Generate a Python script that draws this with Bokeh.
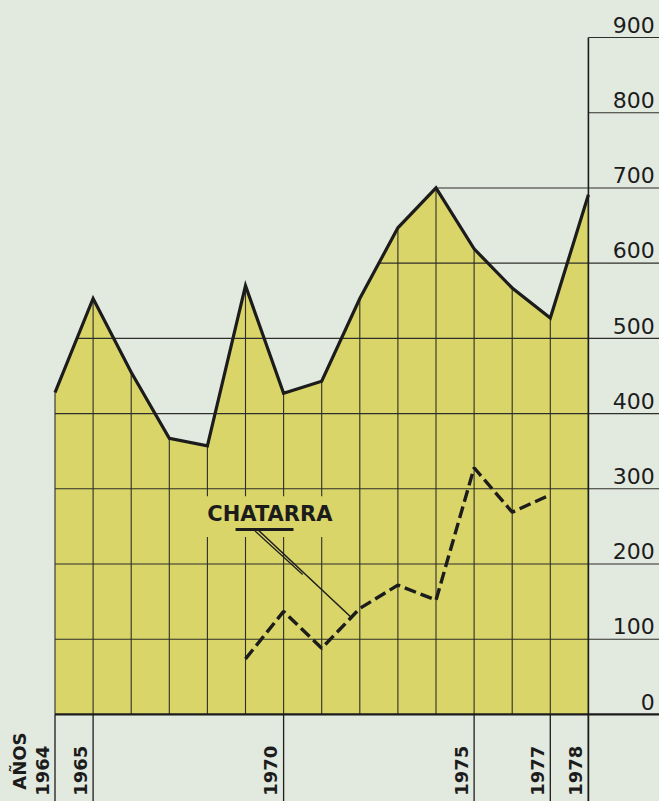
from bokeh.plotting import figure
from bokeh.core.properties import value
from bokeh.embed import file_html
from bokeh.resources import INLINE

# ---------------- data ----------------
years = list(range(1964, 1979))
produccion = [428, 553, 455, 367, 357, 570, 427, 443, 553, 647, 700, 619, 567, 527, 691]
chatarra_years = list(range(1969, 1978))
chatarra = [74, 137, 88, 141, 172, 152, 328, 269, 292]
levels = [0, 100, 200, 300, 400, 500, 600, 700, 800, 900]
level_labels = ["0", "100", "200", "300", "400", "500", "600", "700", "800", "900"]
tick_years = [1964, 1965, 1970, 1975, 1977, 1978]
tick_labels = ["1964", "1965", "1970", "1975", "1977", "1978"]
series_label = "CHATARRA"
axis_title = "AÑOS"

# ---------------- style ----------------
BG = "#e2e9df"
FILL = "#d9d568"
INK = "#1c1c1c"
GRID = "#2e2e2a"
FONT = value("DejaVu Sans")

X0, X1 = 1962.5696, 1979.866
Y0, Y1 = -115.7, 949.2
X_END = 1981

p = figure(width=659, height=801, x_range=(X0, X1), y_range=(Y0, Y1),
           output_backend="svg", toolbar_location=None, min_border=0)
p.axis.visible = False
p.grid.visible = False
p.outline_line_color = None
p.background_fill_color = BG
p.border_fill_color = BG

# filled area
p.varea(x=years, y1=[0] * len(years), y2=produccion, fill_color=FILL)

# vertical grid lines inside the area
p.segment(x0=years, y0=[0] * len(years), x1=years, y1=produccion,
          line_color=GRID, line_width=1.1)

# horizontal level lines, starting where the curve first reaches the level
def first_reach(v):
    if produccion[0] >= v:
        return years[0]
    for i in range(len(years) - 1):
        a, b = produccion[i], produccion[i + 1]
        if a < v <= b:
            return years[i] + (v - a) / (b - a)
    return years[-1]

lv = levels[1:]
p.segment(x0=[first_reach(v) for v in lv], y0=lv, x1=[X_END] * len(lv), y1=lv,
          line_color=GRID, line_width=1.1)
# base line
p.segment(x0=[years[0]], y0=[0], x1=[X_END], y1=[0], line_color=INK, line_width=2.2)

# right vertical axis line
p.segment(x0=[years[-1]], y0=[-130], x1=[years[-1]], y1=[levels[-1]],
          line_color=INK, line_width=1.6)

# tick lines below base for labelled years
p.segment(x0=tick_years, y0=[0] * len(tick_years), x1=tick_years,
          y1=[-130] * len(tick_years), line_color=INK, line_width=1.3)

# label box (covers the grid behind the label)
p.quad(left=[1967.69], right=[1971.62], bottom=[236], top=[290],
       fill_color=FILL, line_color=None)

# main series outline
p.line(years, produccion, line_color=INK, line_width=3.2, line_join="miter")

# chatarra dashed
p.line(chatarra_years, chatarra, line_color=INK, line_width=3.4, line_dash="12 5")

# annotation: underline and leader line
p.segment(x0=[1968.74], y0=[246], x1=[1970.26], y1=[246], line_color=INK, line_width=3)
p.segment(x0=[1969.34], y0=[245], x1=[1971.8], y1=[128], line_color=INK, line_width=1.5)
p.segment(x0=[1969.25], y0=[244], x1=[1970.5], y1=[186], line_color=INK, line_width=1.2)

p.text(x=[1969.64], y=[266], text=[series_label], text_font=FONT,
       text_font_style="bold", text_font_size="21px", text_color=INK,
       text_align="center", text_baseline="alphabetic")

# right-side value labels
p.text(x=[1979.74] * len(levels), y=[v + 17 for v in levels], text=level_labels,
       text_font=FONT, text_font_size="22px", text_color=INK,
       text_align="right", text_baseline="alphabetic")

# rotated year labels
p.text(x=[y - 0.34 for y in tick_years], y=[-108] * len(tick_years), text=tick_labels,
       angle=1.5707963, text_font=FONT, text_font_style="bold", text_font_size="18px",
       text_color=INK, text_align="left", text_baseline="alphabetic")
p.text(x=[1963.06], y=[-100], text=[axis_title], angle=1.5707963, text_font=FONT,
       text_font_style="bold", text_font_size="18px", text_color=INK,
       text_align="left", text_baseline="alphabetic")

html = file_html(p, INLINE)
html = html.replace("<head>", "<head><style>html,body{background:%s;}</style>" % BG, 1)
open("out.html", "w").write(html)
